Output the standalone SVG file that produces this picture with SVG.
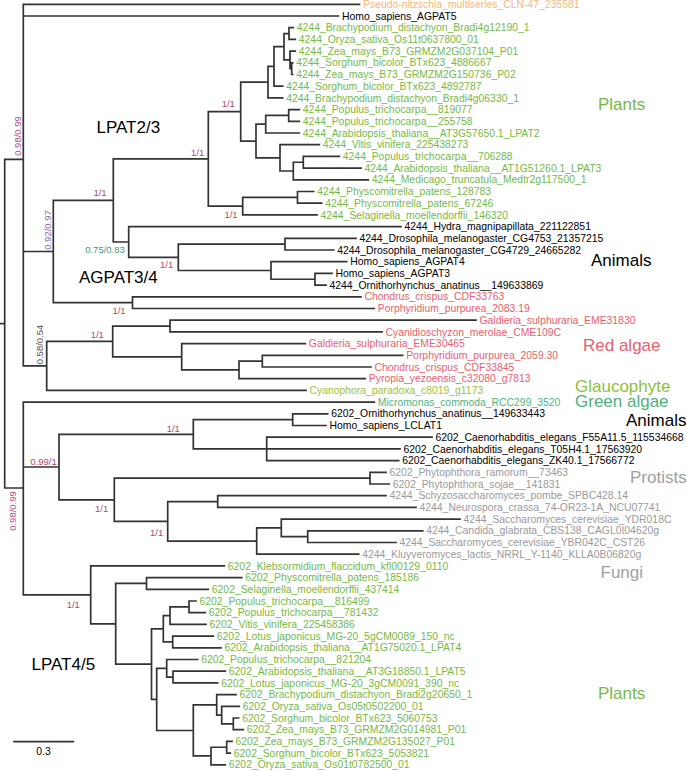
<svg xmlns="http://www.w3.org/2000/svg" width="687" height="771" viewBox="0 0 687 771">
<style>
.br{fill:none;stroke:#333;stroke-width:1.7;stroke-linecap:square}
text{font-family:"Liberation Sans",Arial,sans-serif}
.lf{font-size:10.4px}
.g{fill:#76b947}.k{fill:#000}.r{fill:#e8606e}.o{fill:#f5b979}.gy{fill:#9a9a9a}.cy{fill:#9cc33e}.mi{fill:#4fb583}
.sp{font-size:9.5px;text-anchor:middle}
.s1{fill:#b24a6a}
.cl{font-size:17px}
</style>
<g id="connectors">
<path class="br" d="M0,323.7H4.7M4.7,159.4V488M4.7,159.4H23.3M4.7,488H23.3
M23.3,4.3V365.9M23.3,4.3H359.5M23.3,16H338.5M23.3,251.5H53.3M23.3,365.9H46.7
M53.3,200.4V302.65M53.3,200.4H113.3M53.3,302.65H132.5
M113.3,158.9V242M113.3,158.9H208.3M113.3,242H128.7
M208.3,111.6V206.1M208.3,111.6H240.7M208.3,206.1H242.7
M240.7,82.2V141.05M240.7,82.2H268M240.7,141.05H256
M268,66.45V97.9M268,66.45H274M268,97.9H282.7
M274,46.7V86.2M274,46.7H284M274,86.2H282.7
M284,33.55V59.9M284,33.55H289M284,59.9H290
M289,27.7V39.4M289,27.7H293.3M289,39.4H295.3
M290,51.1V68.65M290,51.1H295.3M290,68.65H291.7
M291.7,62.8V74.5M291.7,62.8H292.7M291.7,74.5H292.7
M256,124.2V157.9M256,124.2H265.7M256,157.9H280
M265.7,115.45V133M265.7,115.45H288.7M265.7,133H299.3
M288.7,109.6V121.3M288.7,109.6H299.3M288.7,121.3H299.3
M280,144.7V171M280,144.7H319.3M280,171H293.3
M293.3,162.25V179.8M293.3,162.25H303.3M293.3,179.8H368.3
M303.3,156.4V168.1M303.3,156.4H339.3M303.3,168.1H361
M242.7,197.35V214.9M242.7,197.35H297.5M242.7,214.9H317
M297.5,191.5V203.2M297.5,191.5H313.7M297.5,203.2H321.7
M128.7,226.6V257.3M128.7,226.6H401M128.7,257.3H178.3
M178.3,244.15V270.5M178.3,244.15H285M178.3,270.5H271
M285,238.3V250M285,238.3H356M285,250H333.7
M271,261.7V279.25M271,261.7H346.7M271,279.25H315
M315,273.4V285.1M315,273.4H332M315,285.1H326
M132.5,296.8V308.5M132.5,296.8H361M132.5,308.5H374.3
M46.7,341.4V390.4M46.7,341.4H112.7M46.7,390.4H306
M112.7,326.05V356.8M112.7,326.05H170M112.7,356.8H181.7
M170,320.2V331.9M170,320.2H476M170,331.9H382
M181.7,343.6V369.9M181.7,343.6H305.3M181.7,369.9H239
M239,361.15V378.7M239,361.15H262.3M239,378.7H365.3
M262.3,355.3V367M262.3,355.3H402.7M262.3,367H371
M23.3,402.1V594.9M23.3,402.1H374.3M23.3,467H59M23.3,594.9H90.7
M59,434.3V499.8M59,434.3H193.3M59,499.8H114.3
M193.3,419.65V448.9M193.3,419.65H292.7M193.3,448.9H266.7
M292.7,413.8V425.5M292.7,413.8H327.7M292.7,425.5H326
M266.7,437.2V460.6M266.7,437.2H432M266.7,448.9H400M266.7,460.6H398.7
M114.3,478.15V521.3M114.3,478.15H370M114.3,521.3H167.7
M370,472.3V484M370,472.3H386M370,484H389.3
M167.7,501.55V541.05M167.7,501.55H217.7M167.7,541.05H256.7
M217.7,495.7V507.4M217.7,495.7H386M217.7,507.4H416
M256.7,527.9V554.2M256.7,527.9H281.3M256.7,554.2H358.7
M281.3,519.1V536.65M281.3,519.1H460M281.3,536.65H307.7
M307.7,530.8V542.5M307.7,530.8H422.7M307.7,542.5H396
M90.7,565.9V623.8M90.7,565.9H224.3M90.7,623.8H115.7
M115.7,583.45V664.1M115.7,583.45H146.5M115.7,664.1H151.5
M146.5,577.6V589.3M146.5,577.6H241.7M146.5,589.3H208.3
M151.5,628.8V699.4M151.5,628.8H163.3M151.5,699.4H156.7
M163.3,615.6V641.95M163.3,615.6H170M163.3,641.95H172.7
M170,606.85V624.4M170,606.85H189M170,624.4H206
M189,601V612.7M189,601H196M189,612.7H205.3
M172.7,636.1V647.8M172.7,636.1H213.3M172.7,647.8H221
M156.7,668.3V730.5M156.7,668.3H166.7M156.7,730.5H193.3
M166.7,659.5V677.05M166.7,659.5H197.7M166.7,677.05H173
M173,671.2V682.9M173,671.2H225.3M173,682.9H217.7
M193.3,704.9V755.95M193.3,704.9H216.7M193.3,755.95H211
M216.7,694.6V715.1M216.7,694.6H236M216.7,715.1H221.7
M221.7,706.3V723.85M221.7,706.3H239.3M221.7,723.85H233.3
M233.3,718V729.7M233.3,718H238.7M233.3,729.7H243.3
M211,747.25V764.8M211,747.25H226.7M211,764.8H225.3
M226.7,741.4V753.1M226.7,741.4H232M226.7,753.1H230.3"/>
</g>
<g id="leaves" class="lf">
<text id="t1" class="o" x="363" y="7.9">Pseudo-nitzschia_multiseries_CLN-47_235581</text>
<text id="t2" class="k" x="342" y="19.6">Homo_sapiens_AGPAT5</text>
<text id="t3" class="g" x="296.8" y="31.3">4244_Brachypodium_distachyon_Bradi4g12190_1</text>
<text id="t4" class="g" x="298.8" y="43">4244_Oryza_sativa_Os11t0637800_01</text>
<text id="t5" class="g" x="298.8" y="54.7">4244_Zea_mays_B73_GRMZM2G037104_P01</text>
<text id="t6" class="g" x="296.2" y="66.4">4244_Sorghum_bicolor_BTx623_4886667</text>
<text id="t7" class="g" x="296.2" y="78.1">4244_Zea_mays_B73_GRMZM2G150736_P02</text>
<text id="t8" class="g" x="286.2" y="89.8">4244_Sorghum_bicolor_BTx623_4892787</text>
<text id="t9" class="g" x="286.2" y="101.5">4244_Brachypodium_distachyon_Bradi4g06330_1</text>
<text id="t10" class="g" x="302.8" y="113.2">4244_Populus_trichocarpa__819077</text>
<text id="t11" class="g" x="302.8" y="124.9">4244_Populus_trichocarpa__255758</text>
<text id="t12" class="g" x="302.8" y="136.6">4244_Arabidopsis_thaliana__AT3G57650.1_LPAT2</text>
<text id="t13" class="g" x="322.8" y="148.3">4244_Vitis_vinifera_225438273</text>
<text id="t14" class="g" x="342.8" y="160">4244_Populus_trichocarpa__706288</text>
<text id="t15" class="g" x="364.5" y="171.7">4244_Arabidopsis_thaliana__AT1G51260.1_LPAT3</text>
<text id="t16" class="g" x="371.8" y="183.4">4244_Medicago_truncatula_Medtr2g117500_1</text>
<text id="t17" class="g" x="317.2" y="195.1">4244_Physcomitrella_patens_128783</text>
<text id="t18" class="g" x="325.2" y="206.8">4244_Physcomitrella_patens_67246</text>
<text id="t19" class="g" x="320.5" y="218.5">4244_Selaginella_moellendorffii_146320</text>
<text id="t20" class="k" x="404.5" y="230.2">4244_Hydra_magnipapillata_221122851</text>
<text id="t21" class="k" x="359.5" y="241.9">4244_Drosophila_melanogaster_CG4753_21357215</text>
<text id="t22" class="k" x="337.2" y="253.6">4244_Drosophila_melanogaster_CG4729_24665282</text>
<text id="t23" class="k" x="350.2" y="265.3">Homo_sapiens_AGPAT4</text>
<text id="t24" class="k" x="335.5" y="277">Homo_sapiens_AGPAT3</text>
<text id="t25" class="k" x="329.5" y="288.7">4244_Ornithorhynchus_anatinus__149633869</text>
<text id="t26" class="r" x="364.5" y="300.4">Chondrus_crispus_CDF33763</text>
<text id="t27" class="r" x="377.8" y="312.1">Porphyridium_purpurea_2083.19</text>
<text id="t28" class="r" x="479.5" y="323.8">Galdieria_sulphuraria_EME31830</text>
<text id="t29" class="r" x="385.5" y="335.5">Cyanidioschyzon_merolae_CME109C</text>
<text id="t30" class="r" x="308.8" y="347.2">Galdieria_sulphuraria_EME30465</text>
<text id="t31" class="r" x="406.2" y="358.9">Porphyridium_purpurea_2059.30</text>
<text id="t32" class="r" x="374.5" y="370.6">Chondrus_crispus_CDF33845</text>
<text id="t33" class="r" x="368.8" y="382.3">Pyropia_yezoensis_c32080_g7813</text>
<text id="t34" class="cy" x="309.5" y="394">Cyanophora_paradoxa_c8019_g1173</text>
<text id="t35" class="mi" x="377.8" y="405.7">Micromonas_commoda_RCC299_3520</text>
<text id="t36" class="k" x="331.2" y="417.4">6202_Ornithorhynchus_anatinus__149633443</text>
<text id="t37" class="k" x="329.5" y="429.1">Homo_sapiens_LCLAT1</text>
<text id="t38" class="k" x="435.5" y="440.8">6202_Caenorhabditis_elegans_F55A11.5_115534668</text>
<text id="t39" class="k" x="403.5" y="452.5">6202_Caenorhabditis_elegans_T05H4.1_17563920</text>
<text id="t40" class="k" x="402.2" y="464.2">6202_Caenorhabditis_elegans_ZK40.1_17566772</text>
<text id="t41" class="gy" x="389.5" y="475.9">6202_Phytophthora_ramorum__73463</text>
<text id="t42" class="gy" x="392.8" y="487.6">6202_Phytophthora_sojae__141831</text>
<text id="t43" class="gy" x="389.5" y="499.3">4244_Schyzosaccharomyces_pombe_SPBC428.14</text>
<text id="t44" class="gy" x="419.5" y="511">4244_Neurospora_crassa_74-OR23-1A_NCU07741</text>
<text id="t45" class="gy" x="463.5" y="522.7">4244_Saccharomyces_cerevisiae_YDR018C</text>
<text id="t46" class="gy" x="426.2" y="534.4">4244_Candida_glabrata_CBS138_CAGL0I04620g</text>
<text id="t47" class="gy" x="399.5" y="546.1">4244_Saccharomyces_cerevisiae_YBR042C_CST26</text>
<text id="t48" class="gy" x="362.2" y="557.8">4244_Kluyveromyces_lactis_NRRL_Y-1140_KLLA0B06820g</text>
<text id="t49" class="g" x="227.8" y="569.5">6202_Klebsormidium_flaccidum_kfl00129_0110</text>
<text id="t50" class="g" x="245.2" y="581.2">6202_Physcomitrella_patens_185186</text>
<text id="t51" class="g" x="211.8" y="592.9">6202_Selaginella_moellendorffii_437414</text>
<text id="t52" class="g" x="199.5" y="604.6">6202_Populus_trichocarpa__816499</text>
<text id="t53" class="g" x="208.8" y="616.3">6202_Populus_trichocarpa__781432</text>
<text id="t54" class="g" x="209.5" y="628">6202_Vitis_vinifera_225458386</text>
<text id="t55" class="g" x="216.8" y="639.7">6202_Lotus_japonicus_MG-20_5gCM0089_150_nc</text>
<text id="t56" class="g" x="224.5" y="651.4">6202_Arabidopsis_thaliana__AT1G75020.1_LPAT4</text>
<text id="t57" class="g" x="201.2" y="663.1">6202_Populus_trichocarpa__821204</text>
<text id="t58" class="g" x="228.8" y="674.8">6202_Arabidopsis_thaliana__AT3G18850.1_LPAT5</text>
<text id="t59" class="g" x="221.2" y="686.5">6202_Lotus_japonicus_MG-20_3gCM0091_390_nc</text>
<text id="t60" class="g" x="239.5" y="698.2">6202_Brachypodium_distachyon_Bradi2g20650_1</text>
<text id="t61" class="g" x="242.8" y="709.9">6202_Oryza_sativa_Os05t0502200_01</text>
<text id="t62" class="g" x="242.2" y="721.6">6202_Sorghum_bicolor_BTx623_5060753</text>
<text id="t63" class="g" x="246.8" y="733.3">6202_Zea_mays_B73_GRMZM2G014981_P01</text>
<text id="t64" class="g" x="235.5" y="745">6202_Zea_mays_B73_GRMZM2G135027_P01</text>
<text id="t65" class="g" x="233.8" y="756.7">6202_Sorghum_bicolor_BTx623_5053821</text>
<text id="t66" class="g" x="228.8" y="768.4">6202_Oryza_sativa_Os01t0782500_01</text>
</g>
<g id="support" class="sp">
<text class="s1" x="228.3" y="107.4">1/1</text>
<text class="s1" x="197.7" y="156.1">1/1</text>
<text class="s1" x="100" y="195.7">1/1</text>
<text class="s1" x="231" y="218.4">1/1</text>
<text fill="#3f9a80" x="105" y="253.4">0.75/0.83</text>
<text class="s1" x="166.7" y="268.4">1/1</text>
<text class="s1" x="119" y="314.4">1/1</text>
<text class="s1" x="97.3" y="338.4">1/1</text>
<text class="s1" x="173.3" y="431.7">1/1</text>
<text class="s1" x="43.5" y="465.1">0.99/1</text>
<text class="s1" x="101.7" y="511.7">1/1</text>
<text class="s1" x="156.7" y="535.7">1/1</text>
<text class="s1" x="73.3" y="607.7">1/1</text>
<text fill="#b0508a" transform="translate(17.5,136) rotate(-90)" x="0" y="3.4">0.98/0.99</text>
<text fill="#8c64a8" transform="translate(47.5,230) rotate(-90)" x="0" y="3.4">0.92/0.97</text>
<text fill="#555" transform="translate(40,344.5) rotate(-90)" x="0" y="3.4">0.58/0.54</text>
<text fill="#b0508a" transform="translate(13,511) rotate(-90)" x="0" y="3.4">0.98/0.99</text>
</g>
<g id="clades" class="cl">
<text class="k" x="96.5" y="133.3">LPAT2/3</text>
<text class="k" x="79" y="282.7">AGPAT3/4</text>
<text class="k" x="31.5" y="670">LPAT4/5</text>
<text class="g" x="598" y="110">Plants</text>
<text class="k" x="591" y="265.5">Animals</text>
<text class="r" x="583" y="351">Red algae</text>
<text fill="#8dc03c" x="575" y="392.3">Glaucophyte</text>
<text fill="#4fb07a" x="575" y="407.3">Green algae</text>
<text class="k" x="626" y="425.7">Animals</text>
<text fill="#a0a0a0" x="630" y="483.3">Protists</text>
<text fill="#a0a0a0" x="600.5" y="578.3">Fungi</text>
<text class="g" x="598" y="699">Plants</text>
</g>
<g id="scale">
<path class="br" d="M14,741.7H73.3"/>
<text class="lf" x="43.5" y="755" text-anchor="middle">0.3</text>
</g>
</svg>
